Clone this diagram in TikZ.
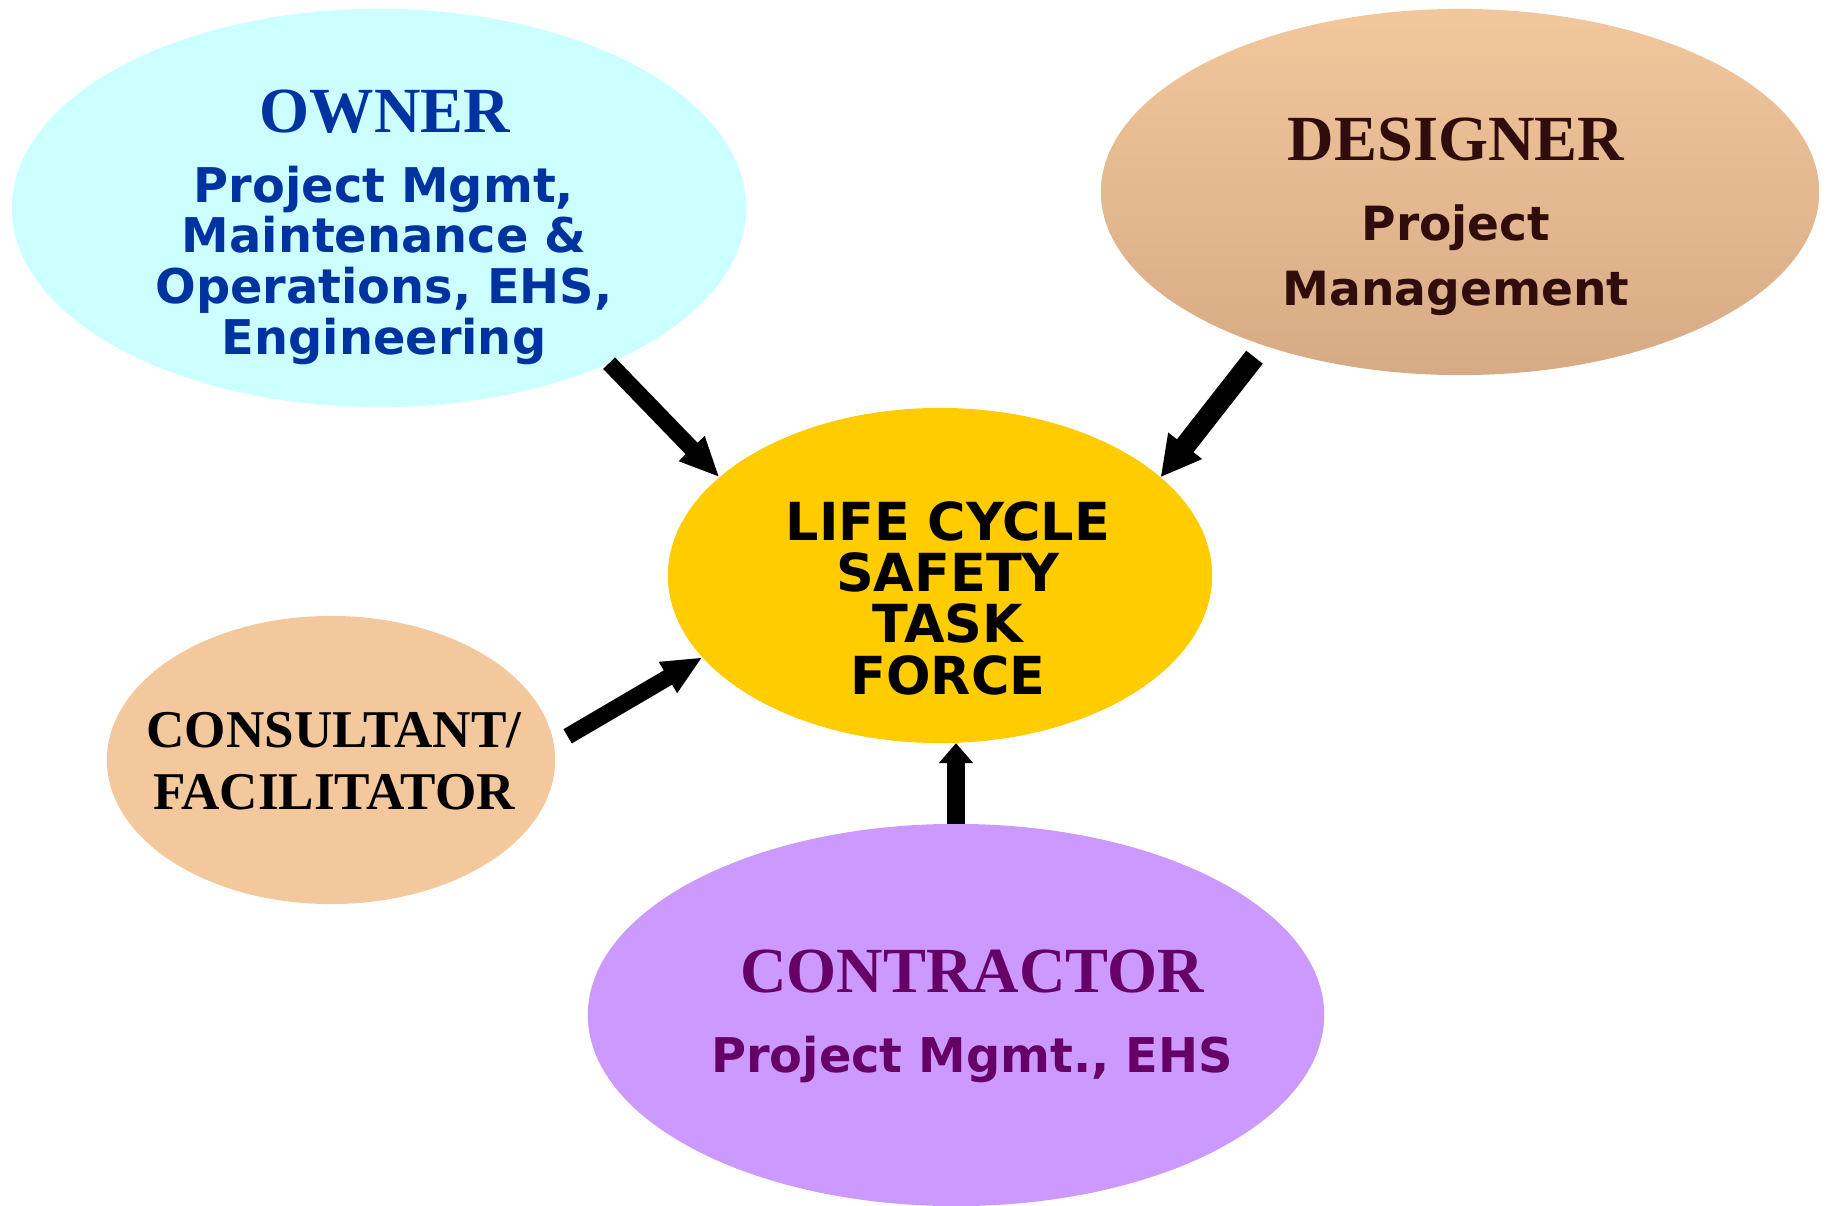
\documentclass[tikz,border=0pt]{standalone}
\usepackage{fontspec}
\setmainfont{Liberation Serif}
\newfontfamily\dejavu{DejaVu Sans}
\usetikzlibrary{arrows.meta, positioning, shapes.geometric}

\definecolor{ownerfill}{RGB}{204,255,255}
\definecolor{ownerink}{RGB}{0,51,160}
\definecolor{designtop}{RGB}{243,199,156}
\definecolor{designbot}{RGB}{214,170,132}
\definecolor{designink}{RGB}{48,12,12}
\definecolor{taskfill}{RGB}{255,204,0}
\definecolor{consultfill}{RGB}{244,200,157}
\definecolor{contractfill}{RGB}{204,153,255}
\definecolor{contractink}{RGB}{102,0,102}

\begin{document}
\begin{tikzpicture}[
    x=0.01cm, y=-0.01cm,
    blob/.style={ellipse, inner sep=0pt, outer sep=0pt},
    head/.style={anchor=base, inner sep=0pt, font=\bfseries\fontsize{18.3}{22}\selectfont},
    blurb/.style={anchor=base, inner sep=0pt, align=center, text width=6cm,
                  font=\dejavu\bfseries\fontsize{13.6}{14.5}\selectfont},
    bigarrow/.style={-{Triangle[length=4mm, width=3.3mm]}, line width=1.65mm}
    ]
    \useasboundingbox (0,0) rectangle (1830,1206);

    % Ellipses
    \node[blob, fill=ownerfill, minimum width=7.34cm, minimum height=3.98cm] (owner) at (379,208) {};
    \node[blob, top color=designtop, bottom color=designbot, minimum width=7.18cm, minimum height=3.66cm] (designer) at (1460,192) {};
    \node[blob, fill=taskfill, minimum width=5.44cm, minimum height=3.35cm] (task) at (940,575.5) {};
    \node[blob, fill=consultfill, minimum width=4.48cm, minimum height=2.88cm] (consultant) at (331,760) {};
    \node[blob, fill=contractfill, minimum width=7.36cm, minimum height=3.82cm] (contractor) at (956,1015) {};

    % Texts
    \node[head, text=ownerink] (ownerhead) at (385,132) {OWNER};
    \node[blurb, text=ownerink] (ownerbody) at (384,202) {Project Mgmt,\\Maintenance \&\\Operations, EHS,\\Engineering};

    \node[head, text=designink] (designerhead) at (1456,160) {DESIGNER};
    \node[blurb, text=designink, font=\dejavu\bfseries\fontsize{13.4}{18.5}\selectfont] (designerbody) at (1456,240) {Project\\Management};

    \node[blurb, font=\dejavu\bfseries\fontsize{14.9}{14.6}\selectfont] (taskbody) at (948,540) {LIFE CYCLE\\SAFETY\\TASK\\FORCE};

    \node[blurb, font=\bfseries\fontsize{15.1}{17.9}\selectfont] (consultbody) at (334,747) {CONSULTANT/\\FACILITATOR};

    \node[head, text=contractink] (contractorhead) at (972,992) {CONTRACTOR};
    \node[blurb, text=contractink, text width=8cm] (contractorbody) at (972,1072) {Project Mgmt., EHS};

    % Arrows
    \draw[bigarrow] (owner.-34) -- (task.156.5);
    \draw[bigarrow, line width=2.1mm, -{Triangle[length=4mm, width=4mm]}, shorten <=1.5mm] (designer.-142) -- (task.24.5);
    \draw[bigarrow, shorten <=1.6mm] (consultant.4) -- (task.-161);
    \draw[bigarrow, line width=1.8mm, -{Triangle[length=2mm, width=3.3mm]}] (contractor.north) -- (task.south -| contractor.north);
\end{tikzpicture}
\end{document}
